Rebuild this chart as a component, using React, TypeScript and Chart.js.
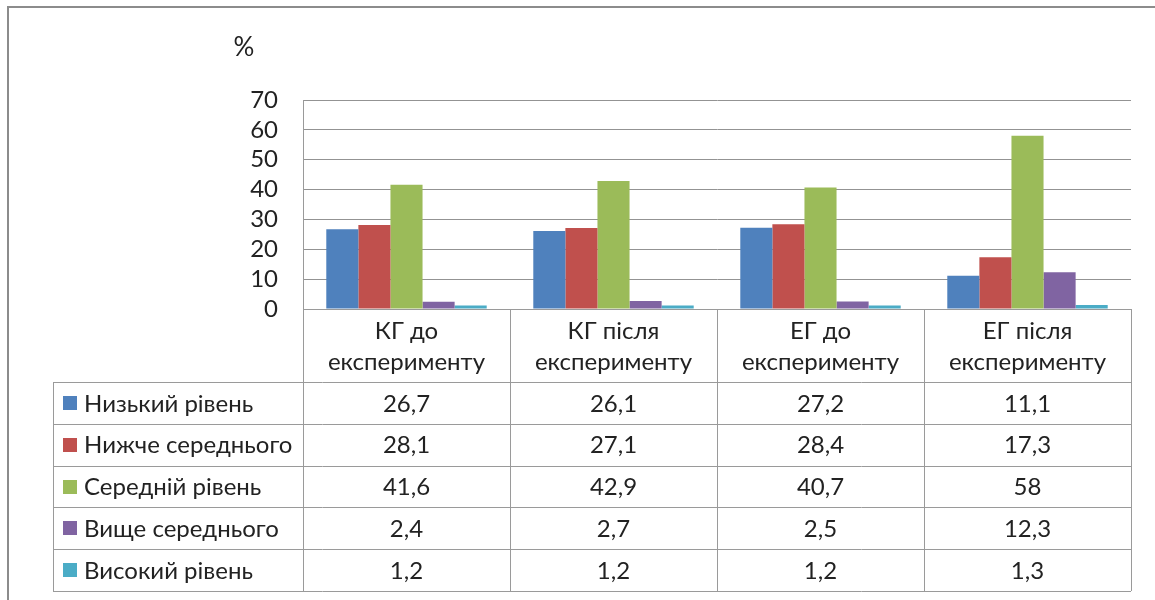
import React, { useEffect, useRef } from "react";
import { Chart, registerables } from "chart.js";

Chart.register(...registerables);

const categories: string[][] = [
  ["КГ до", "експерименту"],
  ["КГ після", "експерименту"],
  ["ЕГ до", "експерименту"],
  ["ЕГ після", "експерименту"],
];

const seriesNames = [
  "Низький рівень",
  "Нижче середнього",
  "Середній рівень",
  "Вище середнього",
  "Високий рівень",
];

const lowLevel = [26.7, 26.1, 27.2, 11.1];
const belowAverage = [28.1, 27.1, 28.4, 17.3];
const averageLevel = [41.6, 42.9, 40.7, 58];
const aboveAverage = [2.4, 2.7, 2.5, 12.3];
const highLevel = [1.2, 1.2, 1.2, 1.3];

const seriesValues = [lowLevel, belowAverage, averageLevel, aboveAverage, highLevel];
const seriesColors = ["#4F81BD", "#C0504D", "#9BBB59", "#8064A2", "#4BACC6"];

const yMin = 0;
const yMax = 70;
const yStep = 10;
const axisTitle = "%";

const FONT = "Lato, 'Open Sans', sans-serif";
const FONT_SIZE = 24;
const TEXT = "#222222";
const LINE = "#9a9a9a";
const TABLE_LEFT = 53;
const ROW_H = 41.8;

const fmt = (v: number) => String(v).replace(".", ",");

const tablePlugin = {
  id: "dataTable",
  beforeDraw(chart: any) {
    const ctx = chart.ctx as CanvasRenderingContext2D;
    ctx.save();
    ctx.fillStyle = "#ffffff";
    ctx.fillRect(0, 0, chart.width, chart.height);
    ctx.strokeStyle = "#8c8c8c";
    ctx.lineWidth = 2;
    ctx.strokeRect(8, 7, chart.width + 20, chart.height + 20);
    ctx.restore();
  },
  afterDraw(chart: any) {
    const ctx = chart.ctx as CanvasRenderingContext2D;
    const area = chart.chartArea;
    const x = chart.scales.x;
    const n = categories.length;
    const colW = (area.right - area.left) / n;
    const headTop = area.bottom;
    const headBottom = x.bottom;
    const rows = seriesNames.length;
    const tableBottom = headBottom + rows * ROW_H;

    ctx.save();
    ctx.strokeStyle = LINE;
    ctx.lineWidth = 1;
    const hline = (x1: number, x2: number, y: number) => {
      const yy = Math.round(y) + 0.5;
      ctx.beginPath();
      ctx.moveTo(x1, yy);
      ctx.lineTo(x2, yy);
      ctx.stroke();
    };
    const vline = (xv: number, y1: number, y2: number) => {
      const xx = Math.round(xv) + 0.5;
      ctx.beginPath();
      ctx.moveTo(xx, y1);
      ctx.lineTo(xx, y2);
      ctx.stroke();
    };
    hline(area.left, area.right, headTop);
    for (let r = 0; r <= rows; r++) {
      hline(TABLE_LEFT, area.right, headBottom + r * ROW_H);
    }
    vline(TABLE_LEFT, headBottom, tableBottom);
    for (let c = 0; c <= n; c++) {
      const px = c < n ? x.getPixelForValue(c) - colW / 2 : x.getPixelForValue(n - 1) + colW / 2;
      vline(px, headTop, tableBottom);
    }

    ctx.font = `${FONT_SIZE}px ${FONT}`;
    ctx.textBaseline = "middle";
    ctx.fillStyle = TEXT;
    for (let r = 0; r < rows; r++) {
      const cy = headBottom + r * ROW_H + ROW_H / 2;
      ctx.fillStyle = seriesColors[r];
      ctx.fillRect(63, Math.round(cy - 7), 14, 14);
      ctx.fillStyle = TEXT;
      ctx.textAlign = "left";
      ctx.fillText(seriesNames[r], 84, cy + 1);
      ctx.textAlign = "center";
      for (let c = 0; c < n; c++) {
        ctx.fillText(fmt(seriesValues[r][c]), x.getPixelForValue(c), cy + 1);
      }
    }

    ctx.font = `26px ${FONT}`;
    ctx.textAlign = "center";
    ctx.fillText(axisTitle, 244, 48);
    ctx.restore();
  },
};

export default function App() {
  const ref = useRef<HTMLCanvasElement>(null);
  useEffect(() => {
    if (!ref.current) return;
    const chart = new Chart(ref.current, {
      type: "bar",
      data: {
        labels: categories,
        datasets: seriesNames.map((name, i) => ({
          label: name,
          data: seriesValues[i],
          backgroundColor: seriesColors[i],
          borderWidth: 0,
          categoryPercentage: 0.775,
          barPercentage: 1,
        })),
      },
      options: {
        responsive: false,
        animation: false,
        devicePixelRatio: 1,
        layout: { padding: { left: TABLE_LEFT, top: 100, right: 24, bottom: 218 } },
        plugins: { legend: { display: false }, tooltip: { enabled: false }, title: { display: false } },
        scales: {
          x: {
            grid: { display: false, drawTicks: false },
            border: { display: false },
            ticks: {
              padding: 6.5,
              color: TEXT,
              font: { family: FONT, size: FONT_SIZE, lineHeight: 1.29 },
              maxRotation: 0,
              autoSkip: false,
            },
            afterFit: (s: any) => {
              s.height = 73;
            },
          },
          y: {
            min: yMin,
            max: yMax,
            grid: { color: "#939393", drawTicks: false, lineWidth: 1 },
            border: { display: true, color: LINE, width: 1 },
            ticks: {
              stepSize: yStep,
              padding: 25,
              autoSkip: false,
              color: TEXT,
              font: { family: FONT, size: FONT_SIZE, lineHeight: 1 },
            },
            afterFit: (s: any) => {
              s.width = 250;
            },
          },
        },
      },
      plugins: [tablePlugin],
    });
    return () => chart.destroy();
  }, []);
  return (
    <div style={{ position: "fixed", left: 0, top: 0, width: 1155, height: 600, background: "#fff" }}>
      <canvas ref={ref} width={1155} height={600} style={{ display: "block" }} />
    </div>
  );
}
